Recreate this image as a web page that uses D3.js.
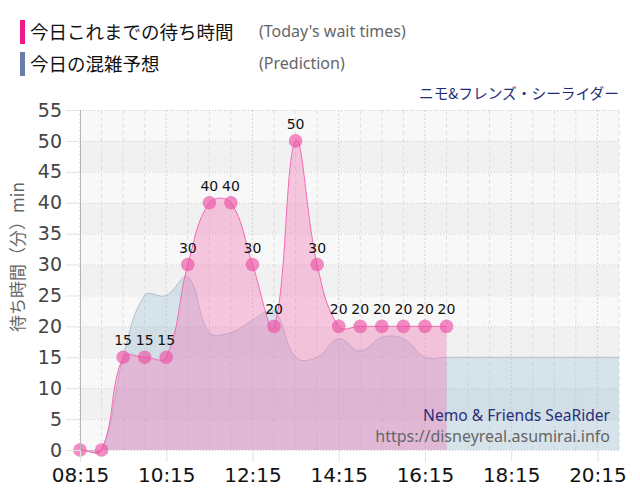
<!DOCTYPE html>
<html><head><meta charset="utf-8">
<script src="https://cdn.jsdelivr.net/npm/d3@7"></script>
<style>body{margin:0;background:#fff}svg{display:block}</style>
</head><body>
<svg id="c" width="640" height="500"></svg>
<script>
// ---- data ----
const waitTimes = ["08:15","08:45","09:15","09:45","10:15","10:45","11:15","11:45","12:15","12:45","13:15","13:45","14:15","14:45","15:15","15:45","16:15","16:45"];
const waitValues = [0,0,15,15,15,30,40,40,30,20,50,30,20,20,20,20,20,20];
const predTimes = ["08:15","08:45","09:15","09:45","10:15","10:45","11:15","11:45","12:15","12:45","13:15","13:45","14:15","14:45","15:15","15:45","16:15","16:45","17:15","17:45","18:15","18:45","19:15","19:45","20:15","20:45"];
const predValues = [0,0,15,25,25,28,19,19,21,22.5,15,15,18,16,18.2,18,15,15,15,15,15,15,15,15,15,15];
const xTickLabels = ["08:15","10:15","12:15","14:15","16:15","18:15","20:15"];
const yTicks = [0,5,10,15,20,25,30,35,40,45,50,55];
const gridTimes = predTimes;
const legendItems = [
  {jp:"今日これまでの待ち時間", en:"(Today's wait times)", color:"#f0198c"},
  {jp:"今日の混雑予想", en:"(Prediction)", color:"#6a7fa8"}
];
const titleText = "ニモ&フレンズ・シーライダー";
const yTitle = "待ち時間（分）min";
const wmName = "Nemo & Friends SeaRider";
const wmUrl = "https://disneyreal.asumirai.info";

// ---- setup ----
const svg = d3.select("#c");
const parse = d3.timeParse("%H:%M");
const L = 80, R = 619, T = 110, B = 450;
const x = d3.scaleTime().domain([parse("08:15"), parse("20:45")]).range([L, R]);
const y = d3.scaleLinear().domain([0,55]).range([B, T]);
const numFont = "DejaVu Sans, Verdana, sans-serif";
const jpFont = "'Noto Sans CJK JP', 'Noto Sans', sans-serif";

// spline curve with tension
function tensionCurve(t) {
  function C(context) { this._context = context; }
  C.prototype = {
    areaStart() { this._line = 0; },
    areaEnd() { this._line = NaN; },
    lineStart() { this._pts = []; },
    point(px, py) { this._pts.push([+px, +py]); },
    lineEnd() {
      const p = this._pts, n = p.length, ctx = this._context;
      if (n) {
        const cps = p.map((cur, i) => {
          const prev = p[i-1] || cur, next = p[i+1] || cur;
          const d01 = Math.hypot(cur[0]-prev[0], cur[1]-prev[1]);
          const d12 = Math.hypot(next[0]-cur[0], next[1]-cur[1]);
          let s01 = d01/(d01+d12), s12 = d12/(d01+d12);
          if (isNaN(s01)) s01 = 0; if (isNaN(s12)) s12 = 0;
          const fa = t*s01, fb = t*s12;
          return {
            a: [cur[0]-fa*(next[0]-prev[0]), cur[1]-fa*(next[1]-prev[1])],
            b: [cur[0]+fb*(next[0]-prev[0]), cur[1]+fb*(next[1]-prev[1])]
          };
        });
        if (this._line) ctx.lineTo(p[0][0], p[0][1]); else ctx.moveTo(p[0][0], p[0][1]);
        for (let i = 1; i < n; i++) {
          ctx.bezierCurveTo(cps[i-1].b[0], cps[i-1].b[1], cps[i].a[0], cps[i].a[1], p[i][0], p[i][1]);
        }
      }
      if (this._line || (this._line !== 0 && n === 1)) ctx.closePath();
      this._line = 1 - this._line;
    }
  };
  return context => new C(context);
}
const curve = tensionCurve(0.4);

// bands
const bandStarts = [0,5,10,15,20,25,30,35,40,45,50];
svg.append("g").selectAll("rect").data(bandStarts).join("rect")
  .attr("x", L).attr("width", R-L)
  .attr("y", d => y(d+5)).attr("height", d => y(d)-y(d+5))
  .attr("fill", d => (d/5)%2===1 ? "#f1f1f1" : "#f8f8f8");

// vertical grid
svg.append("g").selectAll("line").data(gridTimes).join("line")
  .attr("x1", d => x(parse(d))).attr("x2", d => x(parse(d)))
  .attr("y1", T).attr("y2", B)
  .attr("stroke", d => xTickLabels.includes(d) ? "#d4d4d4" : "#dedede")
  .attr("stroke-dasharray", d => xTickLabels.includes(d) ? "2,2" : "4,3")
  .attr("stroke-width", 1);
// horizontal grid
svg.append("g").selectAll("line").data(yTicks).join("line")
  .attr("x1", L).attr("x2", R)
  .attr("y1", d => y(d)+0.5).attr("y2", d => y(d)+0.5)
  .attr("stroke", "#cfcfcf").attr("stroke-dasharray", "1,2");

// prediction area
const predData = predTimes.map((t,i) => ({t: parse(t), v: predValues[i]}));
svg.append("path").datum(predData)
  .attr("d", d3.area().x(d => x(d.t)).y0(y(0)).y1(d => y(d.v)).curve(curve))
  .attr("fill", "rgba(150,185,205,0.33)");
svg.append("path").datum(predData)
  .attr("d", d3.line().x(d => x(d.t)).y(d => y(d.v)).curve(curve))
  .attr("fill", "none").attr("stroke", "rgba(150,165,185,0.6)").attr("stroke-width", 1);

// wait area
const waitData = waitTimes.map((t,i) => ({t: parse(t), v: waitValues[i]}));
svg.append("path").datum(waitData)
  .attr("d", d3.area().x(d => x(d.t)).y0(y(0)).y1(d => y(d.v)).curve(curve))
  .attr("fill", "rgba(245,110,180,0.36)");
svg.append("path").datum(waitData)
  .attr("d", d3.line().x(d => x(d.t)).y(d => y(d.v)).curve(curve))
  .attr("fill", "none").attr("stroke", "#f26bb3").attr("stroke-width", 1);

// points
svg.append("g").selectAll("circle").data(waitData).join("circle")
  .attr("cx", d => x(d.t)).attr("cy", d => y(d.v)).attr("r", 6.8)
  .attr("fill", "rgba(236,80,165,0.65)");
// labels
svg.append("g").selectAll("text").data(waitData.filter(d => d.v > 0)).join("text")
  .attr("x", d => x(d.t)).attr("y", d => y(d.v) - 12)
  .attr("text-anchor", "middle").attr("font-family", numFont).attr("font-size", 14)
  .attr("fill", "#111").text(d => d.v);

// axes
const yAxis = svg.append("g").attr("transform", `translate(${L},0)`)
  .call(d3.axisLeft(y).tickValues(yTicks).tickSize(14).tickPadding(4));
yAxis.select(".domain").attr("stroke", "#b5b5b5");
yAxis.selectAll(".tick line").attr("stroke", "#e2e2e2");
yAxis.selectAll("text").attr("font-family", numFont).attr("font-size", 19).attr("fill", "#444");

const xAxis = svg.append("g").attr("transform", `translate(0,${B})`)
  .call(d3.axisBottom(x).tickValues(xTickLabels.map(parse)).tickFormat(d3.timeFormat("%H:%M")).tickSize(12).tickPadding(6));
xAxis.select(".domain").remove();
xAxis.selectAll(".tick line").attr("stroke", "#e2e2e2");
xAxis.selectAll("text").attr("font-family", numFont).attr("font-size", 20).attr("fill", "#111");

// y title
svg.append("text").attr("transform", `translate(24,257) rotate(-90)`)
  .attr("text-anchor", "middle").attr("font-family", jpFont).attr("font-size", 17)
  .attr("fill", "#666").text(yTitle);

// legend
const lg = svg.append("g").selectAll("g").data(legendItems).join("g")
  .attr("transform", (d,i) => `translate(0,${20 + i*32})`);
lg.append("rect").attr("x", 20).attr("y", 0).attr("width", 5).attr("height", 24).attr("fill", d => d.color);
lg.append("text").attr("x", 30).attr("y", 19).attr("font-family", jpFont).attr("font-size", 18.5)
  .attr("fill", "#111").text(d => d.jp);
lg.append("text").attr("x", 259).attr("y", 17).attr("font-family", "'Noto Sans', sans-serif").attr("font-size", 16)
  .attr("fill", "#666").text(d => d.en);

// title
svg.append("text").attr("x", 619).attr("y", 99).attr("text-anchor", "end")
  .attr("font-family", jpFont).attr("font-size", 14.7).attr("fill", "#1f2a7a").text(titleText);

// watermark
svg.append("text").attr("x", 610).attr("y", 421).attr("text-anchor", "end")
  .attr("font-family", "'Noto Sans', sans-serif").attr("font-size", 15.6).attr("fill", "#26307a").text(wmName);
svg.append("text").attr("x", 610).attr("y", 442).attr("text-anchor", "end")
  .attr("font-family", "'Noto Sans', sans-serif").attr("font-size", 16).attr("fill", "#666").text(wmUrl);
</script>
</body></html>
